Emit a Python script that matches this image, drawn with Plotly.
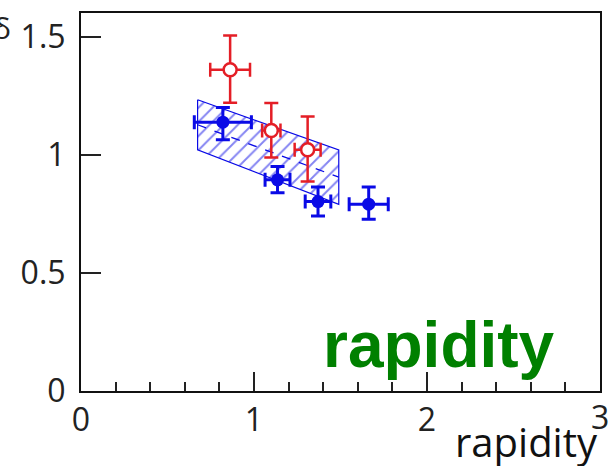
import plotly.graph_objects as go

# Data
red_x = [0.862, 1.10, 1.31]
red_y = [1.36, 1.103, 1.021]
red_ex = [0.115, 0.053, 0.075]
red_ey_plus = [0.145, 0.116, 0.141]
red_ey_minus = [0.14, 0.115, 0.134]

blue_x = [0.82, 1.136, 1.37, 1.663]
blue_y = [1.138, 0.894, 0.802, 0.791]
blue_ex = [0.165, 0.072, 0.074, 0.113]
blue_ey_plus = [0.062, 0.056, 0.061, 0.072]
blue_ey_minus = [0.075, 0.055, 0.061, 0.064]

band_x = [0.674, 1.49]
band_upper = [1.233, 1.02]
band_lower = [1.021, 0.79]
band_center = [1.127, 0.905]

x_ticks = [0, 1, 2]
x_last_tick = 3
y_ticks = [0, 0.5, 1, 1.5]
y_ticklabels = ["0", "0.5", "1", "1.5"]

RED = "#e41e26"
BLUE = "#0a0ae6"

fig = go.Figure()

# hatched systematic band
fig.add_trace(go.Scatter(
    x=band_x + band_x[::-1] + [band_x[0]],
    y=band_upper + band_lower[::-1] + [band_upper[0]],
    mode="lines", fill="toself",
    line=dict(color=BLUE, width=1.2),
    fillcolor="rgba(0,0,0,0)",
    fillpattern=dict(shape="/", fgcolor=BLUE, bgcolor="rgba(255,255,255,0)",
                     size=10, solidity=0.2),
    hoverinfo="skip", showlegend=False,
))
fig.add_trace(go.Scatter(
    x=band_x, y=band_center, mode="lines",
    line=dict(color=BLUE, width=1.3, dash="dash"),
    showlegend=False,
))

fig.add_trace(go.Scatter(
    x=red_x, y=red_y, mode="markers",
    marker=dict(symbol="circle", size=13, color="white",
                line=dict(color=RED, width=2.5)),
    error_x=dict(type="data", array=red_ex, color=RED, thickness=2.5, width=7),
    error_y=dict(type="data", array=red_ey_plus, arrayminus=red_ey_minus,
                 color=RED, thickness=2.5, width=7),
    showlegend=False,
))

fig.add_trace(go.Scatter(
    x=blue_x, y=blue_y, mode="markers",
    marker=dict(symbol="circle", size=13, color=BLUE),
    error_x=dict(type="data", array=blue_ex, color=BLUE, thickness=3, width=7),
    error_y=dict(type="data", array=blue_ey_plus, arrayminus=blue_ey_minus,
                 color=BLUE, thickness=3, width=7),
    showlegend=False,
))

fig.update_layout(
    width=608, height=466,
    margin=dict(l=81, r=6, t=13, b=75),
    paper_bgcolor="white", plot_bgcolor="white",
    font=dict(family="Open Sans", color="#222222", size=32),
    xaxis=dict(range=[0, 3], tickvals=x_ticks, ticks="inside", ticklen=19,
               tickwidth=1.5, tickcolor="#222", showgrid=False, zeroline=False,
               showline=True, linecolor="#111", linewidth=2, mirror=True,
               minor=dict(dtick=0.2, ticks="inside", ticklen=9, tickwidth=1.5,
                          tickcolor="#222", showgrid=False),
               tickfont=dict(size=32)),
    yaxis=dict(range=[0, 1.6], tickvals=y_ticks, ticktext=y_ticklabels,
               ticks="inside", ticklen=20, tickwidth=1.5, tickcolor="#222",
               showgrid=False, zeroline=False, ticklabelstandoff=7,
               showline=True, linecolor="#111", linewidth=2, mirror=True,
               tickfont=dict(size=32)),
    annotations=[
        dict(text="rapidity", xref="paper", yref="paper", x=0.689, y=0.122,
             xanchor="center", yanchor="middle", showarrow=False,
             font=dict(family="Liberation Sans", size=64, color="#008000",
                       weight="bold")),
        dict(text="rapidity", xref="paper", yref="paper", x=1.0, y=-0.133,
             xanchor="right", yanchor="middle", showarrow=False,
             font=dict(family="Open Sans", size=40, color="#111")),
        dict(text=str(x_last_tick), xref="x", yref="paper", x=x_last_tick,
             y=-0.005, xanchor="center", yanchor="top", showarrow=False,
             font=dict(family="Open Sans", size=32, color="#222")),
        dict(text="δ", xref="paper", yref="paper", x=-0.152, y=0.962,
             xanchor="center", yanchor="middle", showarrow=False,
             font=dict(family="Open Sans", size=30, color="#222")),
    ],
)

fig.write_html("out.html")
